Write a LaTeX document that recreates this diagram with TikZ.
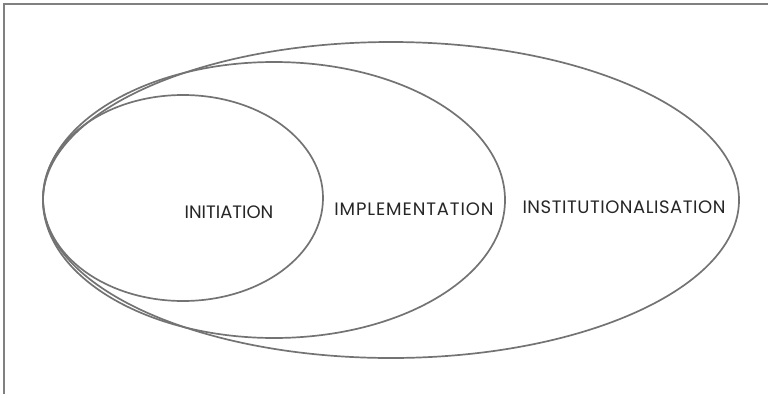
\documentclass[tikz,border=0pt]{standalone}
\usepackage{fontspec}
\setmainfont{Poppins}
\begin{document}
\begin{tikzpicture}[x=1pt,y=-1pt,
  ring/.style={draw=black!55,line width=1.7pt},
  frame/.style={draw=black!50,line width=1.5pt},
  lbl/.style={font=\fontsize{18}{20}\selectfont,text=black!85,inner sep=0pt}]
\useasboundingbox (0,0) rectangle (768,394);
\coordinate (tl) at (4,4);
\coordinate (tr) at (768,4);
\coordinate (bl) at (4,394);
\draw[frame] (tr) -- (tl) -- (bl);
\draw[ring] (391,200) ellipse [x radius=348, y radius=158];
\draw[ring] (274,200) ellipse [x radius=231, y radius=138];
\draw[ring] (183,198) ellipse [x radius=140, y radius=103];
\node[lbl] (ini) at (229,212) {INITIATION};
\node[lbl] (imp) at (414,209) {\addfontfeature{LetterSpace=5}IMPLEMENTATION};
\node[lbl] (ins) at (624,207) {\addfontfeature{LetterSpace=3}INSTITUTIONALISATION};
\end{tikzpicture}
\end{document}
